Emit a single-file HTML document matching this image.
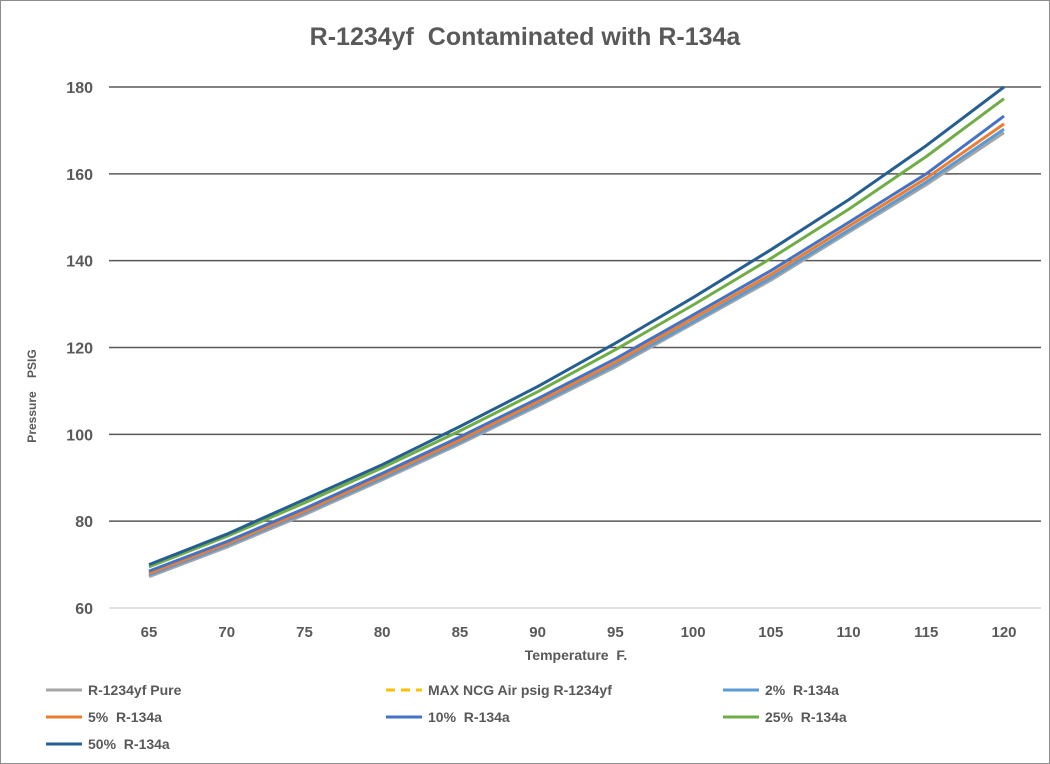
<!DOCTYPE html>
<html><head><meta charset="utf-8"><style>
body{margin:0;background:#fff;font-family:"Liberation Sans",sans-serif}
#wrap{position:relative;width:1048px;height:762px;border:1px solid #8c8c8c;overflow:hidden}
svg text{white-space:pre}
</style></head><body>
<div id="wrap">
<svg id="chart" width="1048" height="762"></svg>
</div>
<script>
const temps=[65,70,75,80,85,90,95,100,105,110,115,120];
const pure=[67.2,74,81.5,89.5,97.8,106.5,115.5,125.5,135.5,146.5,157.5,169.5];
const maxNcg=[];
const pct2=[67.6,74.4,81.9,89.9,98.2,106.9,116,125.9,136,147,158.1,170.3];
const pct5=[68,74.8,82.3,90.4,98.7,107.5,116.6,126.7,136.8,147.9,159,171.5];
const pct10=[68.5,75.3,82.9,91,99.4,108.2,117.4,127.5,137.7,148.8,160,173.3];
const pct25=[69.5,76.5,84.2,92.3,100.8,109.8,119.5,129.8,140.5,151.8,164,177.3];
const pct50=[70,77,85,93,101.8,111,121,131.5,142.5,154,166.5,180];
const yTicks=[60,80,100,120,140,160,180];
const seriesNames=["R-1234yf Pure","MAX NCG Air psig R-1234yf","2%  R-134a","5%  R-134a","10%  R-134a","25%  R-134a","50%  R-134a"];
const seriesData=[pure,maxNcg,pct2,pct5,pct10,pct25,pct50];
const colors=["#a5a5a5","#ffc000","#5b9bd5","#ed7d31","#4472c4","#70ad47","#255e91"];
const NS="http://www.w3.org/2000/svg";
const svg=document.getElementById('chart');
const X=t=>148+(t-65)*(855/55);
const Y=v=>607-(v-60)*(521/120);
function mk(tag,attrs,text){const e=document.createElementNS(NS,tag);for(const k in attrs)e.setAttribute(k,attrs[k]);if(text!==undefined)e.textContent=text;svg.appendChild(e);return e;}
let t=mk('text',{x:524,y:44,'text-anchor':'middle','font-size':25,'font-weight':'bold',fill:'#595959'},'R-1234yf  Contaminated with R-134a');


yTicks.forEach(v=>{
 const l=mk('line',{x1:108,x2:1040,y1:Y(v),y2:Y(v),stroke:v===60?'#d9d9d9':'#595959','stroke-width':1.5});
 
 
 const tx=mk('text',{x:92,y:Y(v)+6,'text-anchor':'end','font-size':16,'font-weight':'bold',fill:'#595959'},v);
 
 
});
temps.forEach(v=>{
 const tx=mk('text',{x:X(v),y:636,'text-anchor':'middle','font-size':15,'font-weight':'bold',fill:'#595959'},v);
 
 
});
t=mk('text',{x:575,y:659,'text-anchor':'middle','font-size':14,'font-weight':'bold',fill:'#595959'},'Temperature  F.');


t=mk('text',{x:0,y:0,transform:'translate(35,395) rotate(-90)','text-anchor':'middle','font-size':12,'font-weight':'bold',fill:'#595959'},'Pressure    PSIG');


seriesData.forEach((d,i)=>{
 if(!d.length)return;
 const pts=d.map((v,j)=>X(temps[j]).toFixed(1)+','+Y(v).toFixed(1)).join(' ');
 const p=mk('polyline',{points:pts,fill:'none',stroke:colors[i],'stroke-width':3,'stroke-linejoin':'round'});
 
 
});
const legPos=[[45,689],[385,689],[722,689],[45,716],[385,716],[722,716],[45,743]];
seriesNames.forEach((n,i)=>{
 const [lx,ly]=legPos[i];
 const l=mk('line',{x1:lx,x2:lx+36,y1:ly,y2:ly,stroke:colors[i],'stroke-width':3,'stroke-dasharray':i===1?'9,6':'none'});
 
 
 const tx=mk('text',{x:lx+42,y:ly+5,'font-size':14,'font-weight':'bold',fill:'#595959'},n);
 
 
});
</script>
</body></html>
